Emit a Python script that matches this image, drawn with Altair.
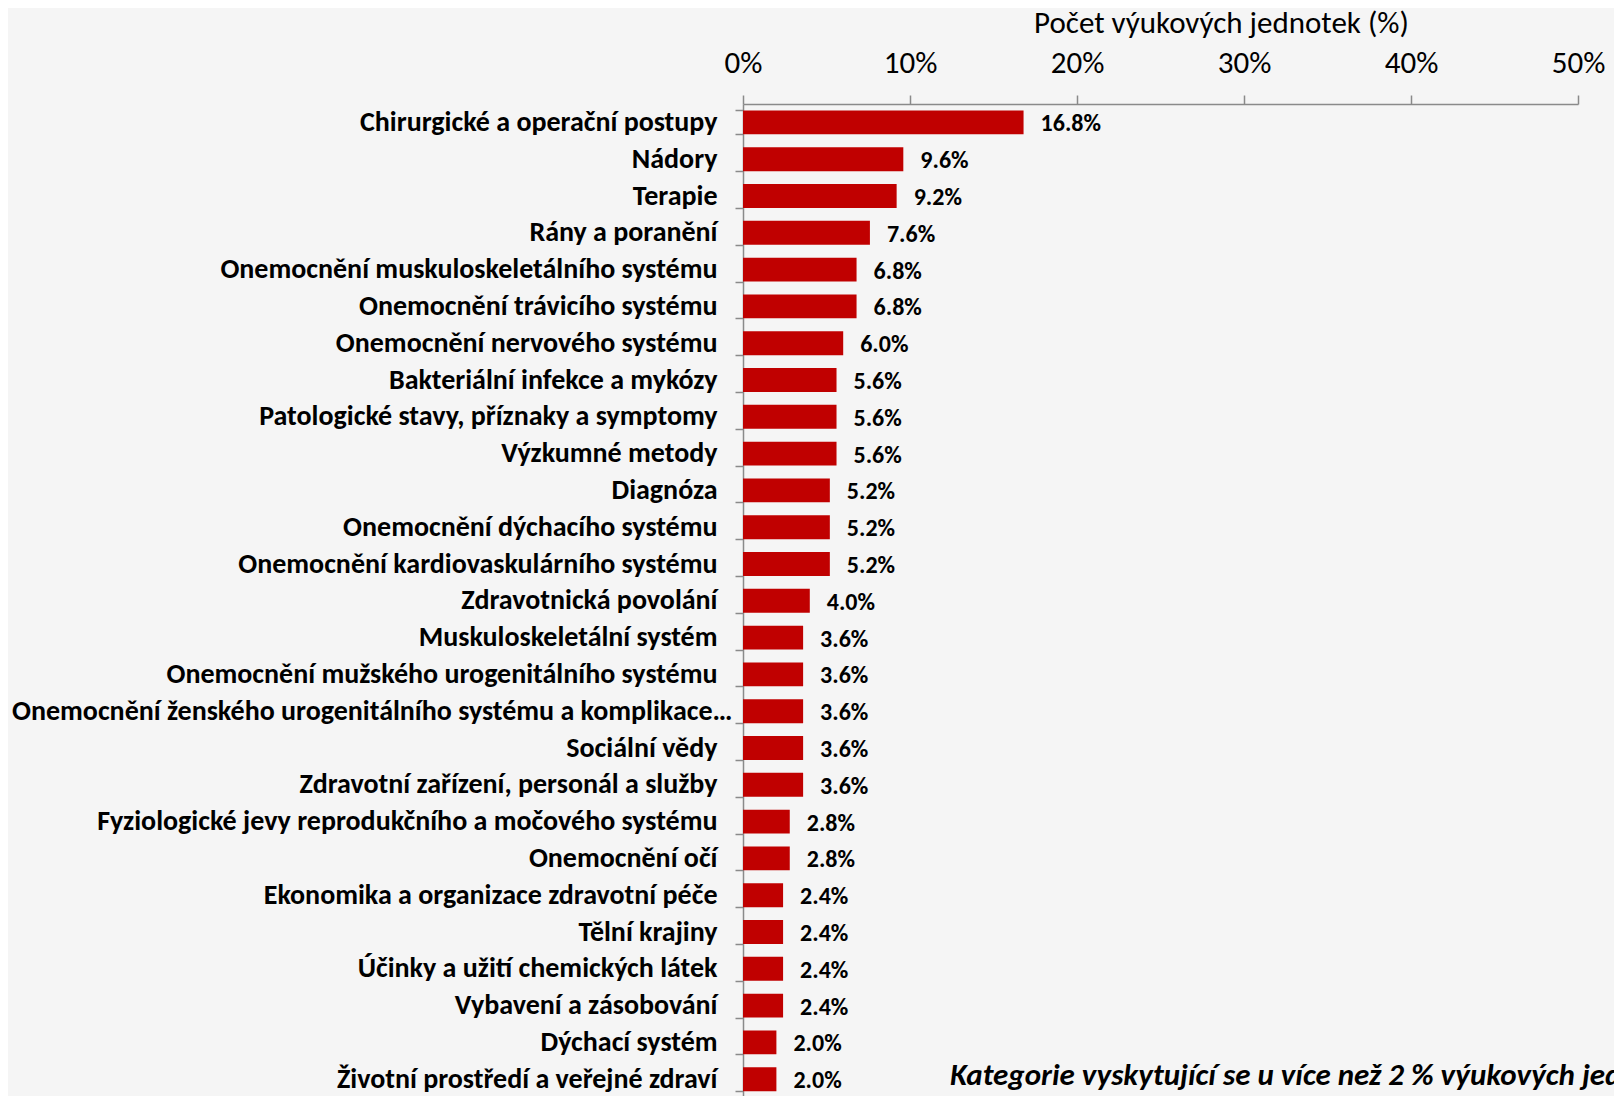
import altair as alt
import pandas as pd

categories = [
    "Chirurgické a operační postupy",
    "Nádory",
    "Terapie",
    "Rány a poranění",
    "Onemocnění muskuloskeletálního systému",
    "Onemocnění trávicího systému",
    "Onemocnění nervového systému",
    "Bakteriální infekce a mykózy",
    "Patologické stavy, příznaky a symptomy",
    "Výzkumné metody",
    "Diagnóza",
    "Onemocnění dýchacího systému",
    "Onemocnění kardiovaskulárního systému",
    "Zdravotnická povolání",
    "Muskuloskeletální systém",
    "Onemocnění mužského urogenitálního systému",
    "Onemocnění ženského urogenitálního systému a komplikace…",
    "Sociální vědy",
    "Zdravotní zařízení, personál a služby",
    "Fyziologické jevy reprodukčního a močového systému",
    "Onemocnění očí",
    "Ekonomika a organizace zdravotní péče",
    "Tělní krajiny",
    "Účinky a užití chemických látek",
    "Vybavení a zásobování",
    "Dýchací systém",
    "Životní prostředí a veřejné zdraví",
]
values = [16.8, 9.6, 9.2, 7.6, 6.8, 6.8, 6.0, 5.6, 5.6, 5.6, 5.2, 5.2, 5.2, 4.0,
          3.6, 3.6, 3.6, 3.6, 3.6, 2.8, 2.8, 2.4, 2.4, 2.4, 2.4, 2.0, 2.0]
x_ticks = [0, 10, 20, 30, 40, 50]
axis_title = "Počet výukových jednotek (%)"
note_text = "Kategorie vyskytující se u více než 2 % výukových jednotek"
long_label = categories[16]

df = pd.DataFrame({"kategorie": categories, "podil": values})

FONT = "Carlito, Lato, sans-serif"
AXIS_GRAY = "#8a8a8a"
STEP = 36.8

y_enc = alt.Y(
    "kategorie:N",
    sort=categories,
    title=None,
    scale=alt.Scale(paddingInner=0.35, paddingOuter=0.175,
                    range=[0, STEP * len(categories)]),
    axis=alt.Axis(
        orient="left",
        labelFont=FONT,
        labelFontSize=28,
        labelFontWeight="bold",
        labelColor="black",
        labelLimit=0,
        labelPadding={"condition": {"test": f"datum.value == '{long_label}'", "value": 3},
                      "value": 18},
        tickBand="extent",
        tickSize=8,
        tickColor=AXIS_GRAY,
        tickWidth=1.5,
        domainColor=AXIS_GRAY,
        domainWidth=1.5,
        grid=False,
    ),
)

x_enc = alt.X(
    "podil:Q",
    scale=alt.Scale(domain=[0, 50], nice=False, zero=True),
    axis=alt.Axis(
        orient="top",
        values=x_ticks,
        labelExpr="datum.value + '%'",
        labelFont=FONT,
        labelFontSize=31,
        labelColor="black",
        labelBaseline="alphabetic",
        labelFlush=False,
        labelPadding=23,
        tickSize=9,
        tickColor=AXIS_GRAY,
        tickWidth=1.5,
        domainColor=AXIS_GRAY,
        domainWidth=1.5,
        grid=False,
        title=axis_title,
        titleFont=FONT,
        titleFontSize=31,
        titleFontWeight="normal",
        titleColor="black",
        titleX=478,
        titleY=-72,
        titleAlign="center",
        titleBaseline="alphabetic",
    ),
)

base = alt.Chart(df)

bars = base.mark_bar(color="#c00000").encode(x=x_enc, y=y_enc)

labels = base.transform_calculate(
    txt="format(datum.podil, '.1f') + '%'"
).mark_text(
    align="left", baseline="middle", dx=17, dy=2,
    font=FONT, fontSize=24, fontWeight="bold", color="black",
).encode(x=alt.X("podil:Q"), y=alt.Y("kategorie:N", sort=categories), text="txt:N")

note = alt.Chart(pd.DataFrame({"t": [note_text]})).mark_text(
    align="left", baseline="alphabetic",
    font=FONT, fontSize=31, fontWeight="bold", fontStyle="italic", color="black",
).encode(x=alt.value(207), y=alt.value(981), text="t:N")

chart = alt.layer(bars, labels, note).properties(
    width=835,
    height=992,
    autosize=alt.AutoSizeParams(type="none"),
    padding={"left": 735, "top": 96, "right": 36, "bottom": 0},
).configure(
    background="#f5f5f5",
).configure_view(stroke=None)

chart.save("out.html", embed_options={"renderer": "svg", "actions": False})
